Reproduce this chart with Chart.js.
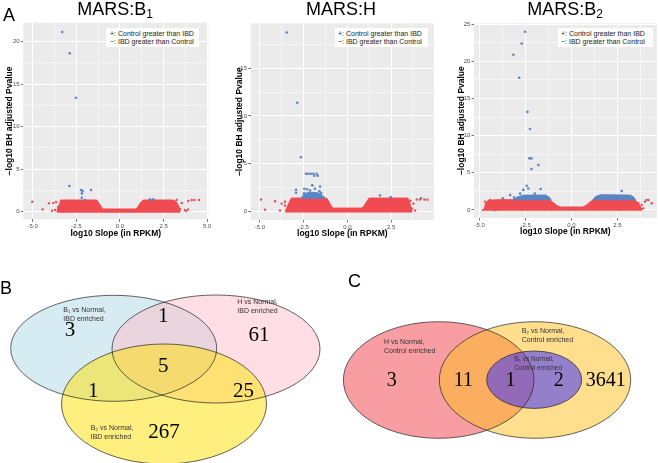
<!DOCTYPE html>
<html>
<head>
<meta charset="utf-8">
<script src="https://cdn.jsdelivr.net/npm/chart.js@4.4.1/dist/chart.umd.min.js"></script>
<style>
  body { margin: 0; background: #fff; }
  #fig { position: relative; width: 658px; height: 463px; overflow: hidden; font-family: "Liberation Sans", Arial, sans-serif; color: #000; }
  canvas { position: absolute; }
  .ttl { position: absolute; top: 0; width: 140px; text-align: center; font-size: 18px; line-height: 18px; white-space: nowrap; }
  .ttl span { font-size: 12px; position: relative; top: 3px; }
  .tag { position: absolute; font-size: 18px; line-height: 18px; }
  .key { position: absolute; top: 28px; height: 19px; background: #fff; font-size: 7px; line-height: 8px; padding-top: 2px; box-sizing: border-box; color: #1a1a1a; white-space: nowrap; }
</style>
</head>
<body>
<div id="fig">
  <canvas id="v1" width="216" height="242" style="left:0;top:0"></canvas>
  <canvas id="v2" width="224" height="242" style="left:216px;top:0"></canvas>
  <canvas id="v3" width="218" height="242" style="left:440px;top:0"></canvas>
  <canvas id="vennB" width="329" height="218" style="left:0;top:245px"></canvas>
  <canvas id="vennC" width="329" height="218" style="left:329px;top:245px"></canvas>

  <div class="tag" style="left:3px;top:6px">A</div>
  <div class="tag" style="left:0;top:279px">B</div>
  <div class="tag" style="left:348px;top:272px">C</div>

  <div class="ttl" style="left:45px">MARS:B<span>1</span></div>
  <div class="ttl" style="left:271px">MARS:H</div>
  <div class="ttl" style="left:495px">MARS:B<span>2</span></div>

  <div class="key" style="left:106px;width:93px;padding-left:4px">+: Control greater than IBD<br>&minus;: IBD greater than Control</div>
  <div class="key" style="left:335px;width:93px;padding-left:3px">+: Control greater than IBD<br>&minus;: IBD greater than Control</div>
  <div class="key" style="left:558px;width:95px;padding-left:3px">+: Control greater than IBD<br>&minus;: IBD greater than Control</div>
</div>
<script>
const BLUE = '#5b84c5';
const RED = '#ef4b50';

// volcano points: [log10 slope, -log10 BH adjusted p]
// MARS:B1
const b1Blue = [[-3.31, 21.14], [-2.88, 18.64], [-2.52, 13.41], [-2.9, 3.02], [-2.23, 2.55], [-2.14, 2.44],
  [-2.18, 2.16], [-1.66, 2.55], [-2.19, 1.65], [-2.0, 1.38], [1.72, 1.46], [1.91, 1.46]];
const b1Red = [[-5.03, 1.18], [-4.43, 0.28], [-4.07, 0.99], [-3.82, 1.02], [-3.9, 0.12], [-3.72, 0.2], [-3.54, 0.55],
  [-3.67, 1.14], [3.25, 1.38], [3.54, 1.02], [3.44, 0.32], [3.72, 0.2], [3.91, 1.26], [4.11, 1.38], [4.26, 1.38],
  [4.53, 1.38], [3.9, 0.26], [3.78, 0.08]];
// outline of the dense red cloud (non significant genes)
const b1BandX = [-3.62, -3.55, -3.45, -3.4, -1.33, -1.2, -1.05, -0.95, 0.9, 1.0, 1.15, 1.33, 3.05, 3.2, 3.3, 3.4, 3.45];
const b1BandTop = [0.0, 0.5, 1.0, 1.38, 1.38, 1.0, 0.5, 0.32, 0.32, 0.5, 1.0, 1.38, 1.38, 1.2, 0.9, 0.5, 0.0];

// MARS:H
const hBlue = [[-3.46, 18.76], [-2.86, 11.38], [-2.65, 5.66], [-2.36, 3.94], [-2.23, 3.94], [-2.09, 3.94], [-1.94, 3.94],
  [-1.75, 3.94], [-1.89, 3.73], [-1.69, 3.73], [-2.0, 2.71], [-2.93, 2.25], [-2.93, 1.94], [-1.56, 2.6], [-1.85, 2.36],
  [-2.13, 2.18], [-2.46, 2.36], [-2.46, 1.9], [-2.3, 2.3], [-1.6, 2.1], [-1.5, 1.9], [-1.37, 1.48], [1.87, 1.65],
  [2.48, 1.48], [4.21, 1.37]];
const hRed = [[-4.93, 1.23], [-4.7, 0.15], [-4.13, 1.05], [-3.85, 0.08], [-3.75, 0.8], [-3.56, 1.0], [-3.37, 0.4],
  [-3.56, 0.6], [3.6, 1.1], [3.77, 0.8], [3.68, 0.3], [3.87, 0.07], [3.97, 1.23], [4.15, 1.23], [4.4, 1.23], [4.57, 1.2]];
const hBandX = [-3.55, -3.4, -3.28, -3.2, -1.18, -1.05, -0.92, -0.8, 0.82, 0.95, 1.1, 1.24, 3.45, 3.55, 3.62, 3.7];
const hBandTop = [0.0, 0.6, 1.1, 1.38, 1.38, 1.0, 0.55, 0.33, 0.33, 0.55, 1.0, 1.38, 1.38, 1.0, 0.5, 0.0];
const hBlueBandX = [-2.65, -2.5, -2.2, -1.7, -1.45, -1.35];
const hBlueBandTop = [1.3, 1.75, 2.0, 1.95, 1.7, 1.3];

// MARS:B2
const b2Blue = [[-2.53, 24.0], [-2.71, 22.4], [-3.16, 20.9], [-2.85, 17.8], [-2.4, 13.2], [-2.26, 10.9], [-2.29, 6.95],
  [-2.18, 6.95], [-2.18, 5.5], [-1.8, 6.05], [-2.44, 3.27], [-2.62, 2.7], [-2.35, 2.9], [-1.68, 2.83], [-3.34, 2.0],
  [-3.74, 1.57], [-3.13, 1.66], [-2.0, 2.2], [-2.8, 2.2], [2.73, 2.55], [4.09, 1.35]];
const b2Red = [[-4.81, 0.0], [-4.71, 1.12], [-4.44, 1.35], [-4.35, 0.45], [-4.17, 0.0], [-3.8, 0.67], [3.64, 0.9],
  [3.82, 0.67], [4.0, 1.12], [3.91, 0.22], [4.19, 1.35], [3.55, 0.22], [4.37, 0.9]];
const b2BandX = [-4.75, -4.7, -4.55, -4.0, -1.2, -1.0, -0.8, -0.62, 0.6, 0.78, 0.98, 1.18, 3.45, 3.6, 3.75, 3.85];
const b2BandTop = [0.0, 0.8, 1.3, 1.38, 1.38, 1.0, 0.6, 0.4, 0.4, 0.6, 1.0, 1.38, 1.38, 1.0, 0.5, 0.0];
const b2BlueBandLX = [-3.2, -3.0, -2.6, -1.4, -1.2, -1.1];
const b2BlueBandLTop = [1.3, 1.7, 2.0, 2.0, 1.7, 1.3];
const b2BlueBandRX = [1.15, 1.3, 1.6, 3.2, 3.4, 3.5];
const b2BlueBandRTop = [1.3, 1.8, 2.05, 2.0, 1.7, 1.3];

// axis ticks
const xMajor = [-5, -2.5, 0, 2.5, 5];
const xMinor = [-3.75, -1.25, 1.25, 3.75];
const yMajor = [0, 5, 10, 15, 20, 25];
const yMinor = [2.5, 7.5, 12.5, 17.5, 22.5];

// Venn counts
const vennBCounts = [3, 1, 61, 5, 1, 25, 267];
const vennBNames = [['B\u2081 vs Normal,', 'IBD enriched'], ['H vs Normal,', 'IBD enriched'], ['B\u2082 vs Normal,', 'IBD enriched']];
const vennCCounts = [3, 11, 1, 2, 3641];
const vennCNames = [['H vs Normal,', 'Control enriched'], ['B\u2082 vs Normal,', 'Control enriched'], ['B\u2081 vs Normal,', 'Control enriched']];

Chart.defaults.font.family = '"Liberation Sans", Arial, sans-serif';

const panelBg = {
  id: 'panelBg',
  beforeDraw(chart) {
    const {ctx, chartArea: a} = chart;
    ctx.save();
    ctx.fillStyle = '#ebebeb';
    ctx.fillRect(a.left, a.top, a.right - a.left, a.bottom - a.top);
    ctx.restore();
  }
};

function pts(arr) {
  return arr.map(p => ({x: p[0], y: p[1]}));
}

function band(xs, ys) {
  return xs.map((x, i) => ({x: x, y: ys[i]}));
}

function axis(min, max, major, minor, fmt, title, titlePad, fit) {
  const all = major.concat(minor).sort((a, b) => a - b);
  const isMajor = c => c.tick && major.includes(c.tick.value);
  return {
    type: 'linear',
    min: min,
    max: max,
    afterBuildTicks: ax => { ax.ticks = all.filter(v => v >= min && v <= max).map(v => ({value: v})); },
    afterFit: fit,
    border: {display: false},
    grid: {
      color: '#ffffff',
      lineWidth: c => isMajor(c) ? 1 : 0.5,
      tickColor: c => isMajor(c) ? '#333333' : 'rgba(0,0,0,0)',
      tickLength: 2.5,
      tickWidth: 0.7
    },
    ticks: {
      autoSkip: false,
      maxRotation: 0,
      padding: 1.2,
      color: '#4d4d4d',
      font: {size: 6},
      callback: v => major.includes(v) ? fmt(v) : ''
    },
    title: {display: true, text: title, color: '#000', font: {size: 8.5, weight: 'bold'}, padding: titlePad}
  };
}

function volcano(id, p) {
  const canvas = document.getElementById(id);
  const W = canvas.width, H = canvas.height;
  const datasets = [
    {data: pts(p.blue), pointRadius: 1.3, backgroundColor: BLUE, borderWidth: 0}
  ];
  p.blueBands.forEach(b => {
    datasets.push({data: band(b[0], b[1]), showLine: true, pointRadius: 0, borderWidth: 1,
      borderColor: BLUE, backgroundColor: BLUE, fill: {value: 1.3}});
  });
  datasets.push({data: pts(p.red), pointRadius: 1.2, backgroundColor: RED, borderWidth: 0});
  datasets.push({data: band(p.bandX, p.bandTop), showLine: true, pointRadius: 0, borderWidth: 1,
    borderColor: RED, backgroundColor: RED, fill: {value: -0.12}});

  return new Chart(canvas, {
    type: 'scatter',
    data: {datasets: datasets},
    options: {
      responsive: false,
      maintainAspectRatio: false,
      animation: false,
      events: [],
      layout: {autoPadding: false, padding: {left: 0, top: p.box.top, right: W - p.box.right, bottom: 0}},
      plugins: {legend: {display: false}, tooltip: {enabled: false}},
      scales: {
        x: axis(p.xMin, p.xMax, xMajor, xMinor, v => v.toFixed(1), 'log10 Slope (in RPKM)',
          {top: 0, bottom: p.xTitlePad}, s => { s.height = H - p.box.bottom; }),
        y: axis(p.yMin, p.yMax, yMajor, yMinor, v => String(v), '\u2212log10 BH adjusted Pvalue',
          {top: p.yTitlePad, bottom: 0}, s => { s.width = p.box.left; })
      }
    },
    plugins: [panelBg]
  });
}

volcano('v1', {
  blue: b1Blue, red: b1Red, bandX: b1BandX, bandTop: b1BandTop, blueBands: [],
  box: {left: 23.3, top: 22.7, right: 208.3, bottom: 219.3},
  xMin: -5.54, xMax: 5.06, yMin: -0.89, yMax: 22.24, yTitlePad: 4.9, xTitlePad: 2.9
});
volcano('v2', {
  blue: hBlue, red: hRed, bandX: hBandX, bandTop: hBandTop, blueBands: [[hBlueBandX, hBlueBandTop]],
  box: {left: 34.7, top: 23.3, right: 218, bottom: 220},
  xMin: -5.52, xMax: 4.95, yMin: -0.92, yMax: 19.72, yTitlePad: 18.9, xTitlePad: 3.4
});
volcano('v3', {
  blue: b2Blue, red: b2Red, bandX: b2BandX, bandTop: b2BandTop,
  blueBands: [[b2BlueBandLX, b2BlueBandLTop], [b2BlueBandRX, b2BlueBandRTop]],
  box: {left: 34, top: 23.3, right: 216.7, bottom: 218},
  xMin: -5.31, xMax: 4.64, yMin: -1.08, yMax: 25.13, yTitlePad: 16.9, xTitlePad: 4.9
});

// Venn layouts, in diagram units (one unit per canvas pixel)
const vennBLayout = {
  ellipses: [
    {cx: 113.7, cy: 103.3, rx: 103, ry: 53, fill: 'rgba(173,216,230,0.5)'},
    {cx: 216, cy: 104, rx: 104, ry: 54, fill: 'rgba(255,192,203,0.5)'},
    {cx: 164, cy: 159, rx: 102.5, ry: 60, fill: 'rgba(255,225,20,0.55)'}
  ],
  countAt: [[70, 85.5], [163.3, 71.7], [259, 90], [163.3, 121.7], [93.3, 146.7], [243.5, 146.7], [164, 187.5]],
  countSize: 21,
  nameAt: [[63.3, 65], [237.3, 56.7], [90.7, 183.3]],
  nameSize: [7, 7, 7]
};
const vennCLayout = {
  ellipses: [
    {cx: 109.7, cy: 135, rx: 95.3, ry: 58.3, fill: 'rgba(240,40,50,0.45)'},
    {cx: 206, cy: 135, rx: 95.7, ry: 58.3, fill: 'rgba(255,190,30,0.5)'},
    {cx: 205.2, cy: 134.7, rx: 47.5, ry: 28.7, fill: 'rgba(60,50,255,0.55)'}
  ],
  countAt: [[62.7, 136], [134.3, 136], [181.5, 136], [229.7, 136], [276.8, 136]],
  countSize: 20,
  nameAt: [[55, 96.7], [192.7, 86], [185.3, 114.3]],
  nameSize: [7, 7, 6.5]
};

function venn(id, counts, names, lay) {
  const canvas = document.getElementById(id);
  const W = canvas.width, H = canvas.height;
  const vennDraw = {
    id: 'vennDraw',
    afterDatasetsDraw(chart) {
      const {ctx, scales: {x, y}} = chart;
      const shapes = lay.ellipses.map(e => ({
        cx: x.getPixelForValue(e.cx),
        cy: y.getPixelForValue(e.cy),
        rx: Math.abs(x.getPixelForValue(e.cx + e.rx) - x.getPixelForValue(e.cx)),
        ry: Math.abs(y.getPixelForValue(e.cy + e.ry) - y.getPixelForValue(e.cy)),
        fill: e.fill
      }));
      ctx.save();
      shapes.forEach(s => {
        ctx.beginPath();
        ctx.ellipse(s.cx, s.cy, s.rx, s.ry, 0, 0, Math.PI * 2);
        ctx.fillStyle = s.fill;
        ctx.fill();
      });
      ctx.strokeStyle = '#222';
      ctx.lineWidth = 0.7;
      shapes.forEach(s => {
        ctx.beginPath();
        ctx.ellipse(s.cx, s.cy, s.rx, s.ry, 0, 0, Math.PI * 2);
        ctx.stroke();
      });

      // region counts
      const meta = chart.getDatasetMeta(0);
      ctx.fillStyle = '#000';
      ctx.textAlign = 'center';
      ctx.textBaseline = 'middle';
      ctx.font = lay.countSize + 'px "Liberation Serif", "Times New Roman", serif';
      meta.data.forEach((pt, i) => ctx.fillText(String(counts[i]), pt.x, pt.y));

      // set names
      ctx.fillStyle = '#333';
      ctx.textAlign = 'left';
      names.forEach((lines, i) => {
        const sz = lay.nameSize[i];
        ctx.font = sz + 'px "Liberation Sans", Arial, sans-serif';
        const px = x.getPixelForValue(lay.nameAt[i][0]);
        lines.forEach((t, k) => {
          ctx.fillText(t, px, y.getPixelForValue(lay.nameAt[i][1] + k * sz * 1.3));
        });
      });
      ctx.restore();
    }
  };
  return new Chart(canvas, {
    type: 'scatter',
    data: {datasets: [{data: pts(lay.countAt), pointRadius: 0}]},
    options: {
      responsive: false,
      maintainAspectRatio: false,
      animation: false,
      events: [],
      layout: {autoPadding: false, padding: 0},
      plugins: {legend: {display: false}, tooltip: {enabled: false}},
      scales: {
        x: {type: 'linear', display: false, min: 0, max: W},
        y: {type: 'linear', display: false, min: 0, max: H, reverse: true}
      }
    },
    plugins: [vennDraw]
  });
}

venn('vennB', vennBCounts, vennBNames, vennBLayout);
venn('vennC', vennCCounts, vennCNames, vennCLayout);
</script>
</body>
</html>
